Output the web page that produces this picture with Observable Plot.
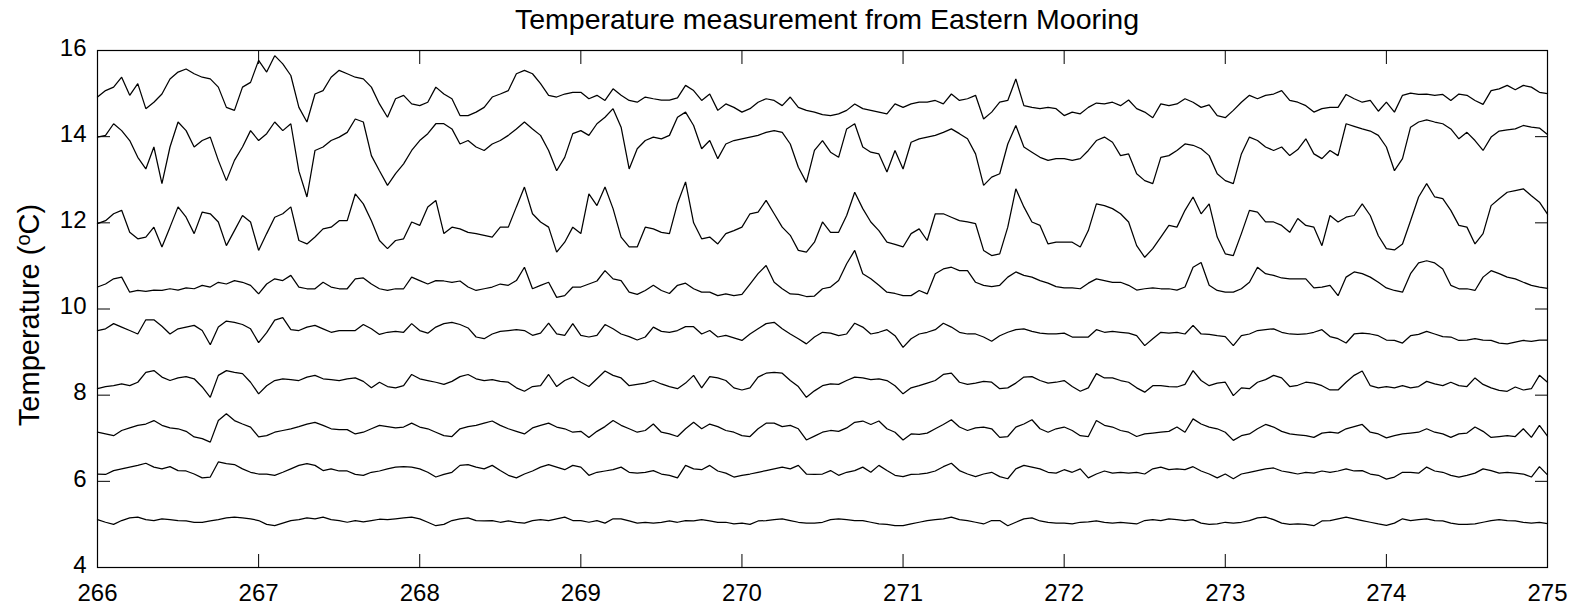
<!DOCTYPE html>
<html>
<head>
<meta charset="utf-8">
<script src="https://cdn.jsdelivr.net/npm/d3@7"></script>
<script src="https://cdn.jsdelivr.net/npm/@observablehq/plot@0.6"></script>
<style>
  html, body { margin: 0; padding: 0; background: #fff; }
  #chart svg { display: block; }
</style>
</head>
<body>
<div id="chart"></div>
<script>
// Time axis: decimal day of year, sampled every 0.05 day from 266 to 275
const startDay = 266;
const stepDay = 0.05;
const xTicks = [266, 267, 268, 269, 270, 271, 272, 273, 274, 275];
const yTicks = [4, 6, 8, 10, 12, 14, 16];
const chartTitle = "Temperature measurement from Eastern Mooring";

// Temperature (°C) of each instrument, shallowest first
const sensor1 = [
  14.92,15.07,15.15,15.38,14.96,15.23,14.65,14.80,14.99,15.34,15.50,15.57,15.46,15.38,15.34,15.15,14.68,14.61,15.15,15.26,15.77,15.50,15.88,15.69,15.42,14.68,14.34,14.99,15.07,15.38,15.54,
  15.46,15.38,15.34,15.15,14.76,14.45,14.88,14.96,14.76,14.72,14.80,15.15,14.99,14.88,14.49,14.49,14.57,14.68,14.92,14.99,15.07,15.46,15.54,15.46,15.23,14.96,14.92,14.99,15.03,
  15.03,14.88,14.96,14.84,15.11,14.96,14.84,14.80,14.92,14.88,14.85,14.85,14.90,15.19,15.07,14.84,14.99,14.61,14.76,14.68,14.57,14.65,14.80,14.88,14.84,14.72,14.92,14.68,14.61,
  14.57,14.51,14.49,14.53,14.61,14.76,14.65,14.61,14.57,14.53,14.76,14.68,14.76,14.80,14.80,14.84,14.76,14.99,14.84,14.88,14.96,14.41,14.57,14.80,14.84,15.34,14.72,14.68,14.65,14.68,14.65,
  14.49,14.57,14.53,14.68,14.78,14.76,14.80,14.72,14.85,14.65,14.57,14.44,14.76,14.72,14.76,14.88,14.80,14.68,14.74,14.49,14.44,14.61,14.80,14.96,14.88,14.96,14.99,15.07,14.84,
  14.80,14.72,14.57,14.65,14.68,14.68,14.98,14.88,14.80,14.84,14.59,14.80,14.57,14.96,15.01,14.98,14.99,14.96,14.98,14.84,14.99,14.96,14.84,14.75,15.07,15.11,15.19,15.09,15.19,15.15,15.03,15.00
];
const sensor2 = [
  13.99,14.03,14.30,14.14,13.91,13.52,13.25,13.76,12.91,13.76,14.34,14.14,13.76,13.91,13.99,13.45,12.98,13.45,13.76,14.14,13.91,14.07,14.34,14.14,14.30,13.20,12.60,13.68,13.76,13.91,13.99,
  14.10,14.41,14.34,13.56,13.21,12.87,13.14,13.37,13.68,13.91,14.07,14.30,14.30,14.18,13.83,13.91,13.76,13.68,13.83,13.91,14.03,14.18,14.34,14.18,14.03,13.68,13.21,13.52,14.07,
  14.14,14.03,14.30,14.45,14.65,14.22,13.25,13.72,13.91,13.99,13.95,14.03,14.45,14.57,14.26,13.72,13.91,13.49,13.83,13.91,13.95,13.99,14.03,14.10,14.14,14.10,13.83,13.29,12.94,
  13.68,13.91,13.64,13.52,14.18,14.30,13.76,13.64,13.60,13.18,13.68,13.25,13.87,13.95,13.99,14.03,14.10,14.18,14.07,13.95,13.60,12.87,13.06,13.14,13.83,14.26,13.76,13.64,13.52,13.45,13.49,
  13.49,13.45,13.49,13.68,13.91,13.99,13.87,13.56,13.60,13.14,12.98,12.91,13.52,13.56,13.68,13.83,13.80,13.72,13.56,13.14,12.98,12.91,13.60,13.99,13.91,13.76,13.68,13.76,13.56,
  13.70,13.95,13.60,13.49,13.68,13.56,14.30,14.24,14.18,14.13,14.03,13.76,13.21,13.49,14.22,14.34,14.39,14.34,14.30,14.18,13.95,14.10,13.91,13.68,13.99,14.13,14.16,14.18,14.26,14.22,14.20,14.05
];
const sensor3 = [
  11.98,12.05,12.21,12.29,11.78,11.63,11.67,11.90,11.44,11.90,12.37,12.13,11.75,12.25,12.21,12.02,11.47,11.82,12.17,12.02,11.36,11.75,12.13,12.21,12.37,11.59,11.51,11.67,11.86,11.90,12.05,
  12.05,12.67,12.44,12.05,11.59,11.40,11.59,11.63,12.02,11.94,12.37,12.52,11.75,11.90,11.86,11.78,11.75,11.71,11.67,11.90,11.90,12.37,12.83,12.21,12.02,11.90,11.32,11.55,11.90,
  11.75,12.67,12.40,12.83,12.33,11.67,11.44,11.44,11.90,11.86,11.78,11.75,12.45,12.95,12.00,11.63,11.67,11.51,11.75,11.82,11.90,12.21,12.25,12.52,12.21,11.90,11.71,11.36,11.32,
  11.55,12.02,11.78,11.78,12.17,12.71,12.33,12.02,11.82,11.55,11.50,11.44,11.75,11.86,11.59,12.21,12.21,12.13,12.05,12.02,11.98,11.36,11.24,11.28,11.90,12.79,12.37,12.02,11.94,11.51,11.55,
  11.55,11.55,11.44,11.82,12.44,12.40,12.33,12.21,12.02,11.47,11.20,11.40,11.67,11.94,11.90,12.29,12.60,12.21,12.44,11.67,11.28,11.24,11.75,12.29,12.25,12.02,12.02,11.94,11.78,
  12.10,11.94,11.90,11.47,12.17,12.02,12.13,12.17,12.44,12.17,11.70,11.40,11.37,11.51,12.05,12.60,12.91,12.60,12.56,12.29,11.94,11.90,11.51,11.75,12.40,12.56,12.71,12.75,12.79,12.63,12.48,12.20
];
const sensor4 = [
  10.51,10.58,10.70,10.74,10.39,10.43,10.41,10.44,10.43,10.47,10.44,10.49,10.47,10.55,10.51,10.62,10.58,10.66,10.62,10.55,10.35,10.58,10.70,10.66,10.78,10.51,10.47,10.47,10.62,10.51,10.47,
  10.47,10.70,10.72,10.58,10.47,10.43,10.47,10.47,10.74,10.66,10.58,10.66,10.65,10.62,10.65,10.51,10.43,10.47,10.51,10.58,10.55,10.66,10.97,10.47,10.55,10.62,10.27,10.31,10.51,
  10.51,10.58,10.65,10.89,10.70,10.66,10.39,10.34,10.43,10.55,10.43,10.36,10.55,10.60,10.47,10.39,10.39,10.31,10.35,10.31,10.34,10.58,10.82,11.01,10.62,10.47,10.35,10.34,10.29,
  10.30,10.47,10.51,10.66,11.05,11.36,10.82,10.70,10.55,10.39,10.36,10.31,10.31,10.43,10.35,10.82,10.93,10.97,10.89,10.89,10.62,10.55,10.52,10.55,10.74,10.86,10.78,10.74,10.66,10.60,10.52,
  10.49,10.49,10.47,10.60,10.70,10.66,10.62,10.62,10.55,10.44,10.47,10.49,10.47,10.47,10.44,10.51,10.97,11.08,10.55,10.43,10.39,10.39,10.47,10.62,10.97,10.82,10.78,10.72,10.70,
  10.70,10.70,10.49,10.51,10.55,10.31,10.74,10.86,10.82,10.74,10.62,10.49,10.43,10.39,10.82,11.07,11.12,11.07,10.93,10.55,10.47,10.47,10.43,10.74,10.89,10.82,10.74,10.70,10.62,10.55,10.51,10.48
];
const sensor5 = [
  9.50,9.54,9.66,9.58,9.50,9.42,9.75,9.75,9.60,9.42,9.54,9.58,9.62,9.50,9.17,9.58,9.72,9.69,9.64,9.54,9.22,9.45,9.74,9.80,9.52,9.50,9.58,9.62,9.54,9.46,9.50,
  9.50,9.50,9.64,9.54,9.41,9.46,9.48,9.46,9.66,9.50,9.44,9.58,9.66,9.69,9.64,9.56,9.35,9.31,9.42,9.48,9.50,9.52,9.50,9.39,9.44,9.67,9.42,9.39,9.66,
  9.39,9.35,9.39,9.64,9.54,9.42,9.36,9.28,9.35,9.58,9.48,9.46,9.50,9.59,9.59,9.42,9.50,9.35,9.39,9.33,9.27,9.42,9.54,9.66,9.69,9.54,9.42,9.31,9.19,
  9.35,9.46,9.44,9.38,9.42,9.67,9.58,9.42,9.46,9.52,9.38,9.11,9.31,9.42,9.46,9.52,9.67,9.58,9.46,9.42,9.42,9.35,9.25,9.38,9.46,9.52,9.54,9.48,9.44,9.42,9.42,
  9.44,9.35,9.35,9.35,9.52,9.46,9.48,9.46,9.44,9.38,9.15,9.31,9.46,9.44,9.46,9.42,9.62,9.42,9.41,9.38,9.36,9.15,9.38,9.42,9.50,9.52,9.54,9.46,9.42,
  9.41,9.42,9.46,9.52,9.36,9.31,9.21,9.42,9.44,9.42,9.38,9.28,9.27,9.21,9.38,9.41,9.48,9.42,9.36,9.35,9.27,9.28,9.31,9.28,9.27,9.21,9.19,9.23,9.27,9.25,9.28,9.28
];
const sensor6 = [
  8.15,8.20,8.22,8.26,8.22,8.30,8.53,8.57,8.42,8.34,8.40,8.43,8.38,8.19,7.95,8.46,8.57,8.53,8.50,8.30,8.03,8.22,8.34,8.38,8.36,8.34,8.42,8.46,8.38,8.36,8.34,
  8.38,8.40,8.32,8.17,8.30,8.20,8.17,8.22,8.48,8.38,8.34,8.30,8.25,8.32,8.43,8.48,8.38,8.34,8.36,8.32,8.30,8.17,8.09,8.20,8.22,8.48,8.20,8.34,8.42,
  8.30,8.20,8.38,8.56,8.46,8.40,8.22,8.25,8.28,8.34,8.26,8.20,8.15,8.28,8.46,8.17,8.43,8.40,8.34,8.17,8.12,8.17,8.42,8.51,8.53,8.51,8.34,8.20,7.95,
  8.10,8.22,8.26,8.25,8.34,8.42,8.40,8.36,8.38,8.34,8.22,8.03,8.17,8.22,8.28,8.34,8.48,8.51,8.30,8.25,8.28,8.32,8.30,8.15,8.17,8.28,8.42,8.43,8.34,8.28,8.30,
  8.34,8.20,8.09,8.17,8.50,8.40,8.40,8.34,8.30,8.17,8.07,8.22,8.22,8.20,8.19,8.25,8.57,8.34,8.22,8.28,8.30,7.99,8.17,8.15,8.30,8.36,8.46,8.40,8.20,
  8.23,8.30,8.28,8.22,8.12,8.12,8.30,8.46,8.56,8.22,8.17,8.20,8.17,8.22,8.17,8.20,8.32,8.26,8.22,8.30,8.22,8.20,8.40,8.25,8.17,8.11,8.09,8.19,8.12,8.15,8.46,8.30
];
const sensor7 = [
  7.14,7.10,7.06,7.18,7.24,7.30,7.33,7.41,7.30,7.24,7.22,7.16,7.03,6.99,6.91,7.41,7.57,7.41,7.33,7.26,7.03,7.06,7.14,7.18,7.22,7.27,7.33,7.37,7.30,7.22,7.20,
  7.20,7.10,7.14,7.22,7.30,7.27,7.24,7.26,7.35,7.26,7.22,7.14,7.06,7.04,7.22,7.27,7.30,7.35,7.40,7.30,7.22,7.16,7.10,7.24,7.30,7.35,7.26,7.22,7.14,
  7.16,7.02,7.16,7.27,7.41,7.30,7.22,7.14,7.18,7.33,7.14,7.10,7.04,7.22,7.37,7.22,7.33,7.27,7.18,7.14,7.06,7.04,7.22,7.35,7.35,7.27,7.30,7.22,6.96,
  7.05,7.14,7.18,7.16,7.24,7.37,7.40,7.32,7.40,7.22,7.14,6.96,7.10,7.09,7.12,7.22,7.32,7.43,7.26,7.18,7.24,7.26,7.22,7.02,7.04,7.26,7.33,7.43,7.22,7.14,7.22,
  7.26,7.18,7.06,7.04,7.41,7.30,7.26,7.18,7.14,7.04,7.10,7.12,7.14,7.16,7.26,7.14,7.45,7.33,7.26,7.22,7.14,6.95,7.06,7.10,7.22,7.32,7.26,7.16,7.10,
  7.08,7.06,7.02,7.12,7.14,7.12,7.22,7.27,7.32,7.14,7.10,7.01,7.06,7.10,7.12,7.14,7.22,7.14,7.10,7.02,7.10,7.12,7.26,7.16,7.02,7.04,7.06,7.04,7.22,7.02,7.30,7.05
];
const sensor8 = [
  6.17,6.16,6.25,6.29,6.33,6.37,6.42,6.33,6.29,6.34,6.25,6.24,6.17,6.08,6.10,6.45,6.41,6.39,6.29,6.21,6.17,6.17,6.14,6.21,6.29,6.37,6.41,6.37,6.25,6.29,6.24,
  6.24,6.16,6.14,6.21,6.24,6.29,6.33,6.34,6.33,6.29,6.21,6.10,6.16,6.21,6.37,6.39,6.33,6.29,6.37,6.25,6.14,6.08,6.17,6.24,6.33,6.39,6.33,6.27,6.37,
  6.33,6.14,6.21,6.24,6.27,6.33,6.21,6.19,6.21,6.25,6.17,6.14,6.08,6.37,6.29,6.27,6.37,6.24,6.19,6.10,6.14,6.17,6.21,6.25,6.29,6.33,6.29,6.37,6.17,
  6.16,6.17,6.25,6.14,6.21,6.25,6.33,6.21,6.37,6.25,6.14,6.11,6.16,6.17,6.19,6.24,6.34,6.42,6.25,6.17,6.11,6.17,6.21,6.11,6.06,6.29,6.37,6.33,6.29,6.21,6.19,
  6.27,6.21,6.29,6.08,6.17,6.24,6.19,6.21,6.19,6.21,6.17,6.29,6.33,6.27,6.29,6.27,6.34,6.24,6.17,6.08,6.17,6.06,6.17,6.21,6.25,6.29,6.31,6.24,6.21,
  6.17,6.21,6.19,6.24,6.21,6.24,6.29,6.24,6.25,6.17,6.14,6.05,6.10,6.21,6.21,6.19,6.33,6.24,6.21,6.14,6.10,6.14,6.19,6.29,6.25,6.19,6.21,6.19,6.17,6.10,6.34,6.15
];
const sensor9 = [
  5.11,5.05,5.00,5.09,5.15,5.17,5.11,5.09,5.13,5.11,5.09,5.08,5.05,5.05,5.08,5.11,5.15,5.17,5.15,5.13,5.09,5.00,4.97,5.03,5.09,5.11,5.15,5.13,5.17,5.11,5.09,
  5.05,5.09,5.06,5.09,5.12,5.11,5.13,5.15,5.17,5.13,5.05,4.97,5.00,5.09,5.13,5.15,5.09,5.08,5.09,5.05,5.08,5.05,5.03,5.09,5.11,5.09,5.13,5.17,5.09,
  5.09,5.05,5.09,5.03,5.13,5.13,5.08,5.03,5.05,5.03,5.05,5.08,5.05,5.09,5.08,5.11,5.08,5.05,5.05,5.01,5.03,5.00,5.08,5.09,5.11,5.13,5.09,5.05,5.03,
  5.03,5.05,5.11,5.13,5.11,5.09,5.09,5.05,5.01,5.00,4.97,4.97,5.01,5.05,5.09,5.11,5.13,5.17,5.11,5.09,5.05,5.01,5.09,5.09,4.97,5.05,5.13,5.15,5.08,5.05,5.03,
  5.03,5.01,5.05,5.06,5.08,5.05,5.03,5.05,5.03,5.01,5.09,5.11,5.09,5.13,5.11,5.09,5.11,5.03,5.00,5.01,5.05,5.03,5.05,5.09,5.15,5.17,5.11,5.03,5.00,
  5.01,5.00,4.97,5.08,5.09,5.13,5.17,5.13,5.09,5.05,5.01,4.98,5.03,5.13,5.09,5.11,5.13,5.09,5.08,5.03,5.00,5.00,5.01,5.05,5.09,5.11,5.09,5.08,5.05,5.03,5.05,5.02
];

const sensors = [sensor1, sensor2, sensor3, sensor4, sensor5, sensor6, sensor7, sensor8, sensor9];
const rows = sensors.flatMap((values, k) =>
  values.map((temp, i) => ({sensor: k + 1, day: startDay + i * stepDay, temp}))
);

const font = "'Liberation Sans', Arial, Helvetica, sans-serif";
const noText = () => "";

const chart = Plot.plot({
  width: 1584,
  height: 610,
  marginLeft: 97,
  marginRight: 37,
  marginTop: 50,
  marginBottom: 43,
  style: {fontFamily: font, fontSize: "24px", color: "black", background: "white", overflow: "visible"},
  x: {domain: [266, 275]},
  y: {domain: [4, 16]},
  marks: [
    Plot.lineY(rows, {x: "day", y: "temp", z: "sensor", stroke: "black", strokeWidth: 1.25, strokeLinejoin: "miter"}),
    Plot.frame({stroke: "black", strokeWidth: 1.2}),
    // inward ticks on all four sides
    Plot.axisX({anchor: "bottom", ticks: xTicks, tickSize: -13, tickFormat: noText, label: null}),
    Plot.axisX({anchor: "top", ticks: xTicks, tickSize: -13, tickFormat: noText, label: null}),
    Plot.axisY({anchor: "left", ticks: yTicks, tickSize: -13, tickFormat: noText, label: null}),
    Plot.axisY({anchor: "right", ticks: yTicks, tickSize: -13, tickFormat: noText, label: null}),
    // tick labels
    Plot.axisX({anchor: "bottom", ticks: xTicks, tickSize: 0, tickPadding: 16, tickFormat: d => String(d), label: null, fontSize: 24}),
    Plot.axisY({anchor: "left", ticks: yTicks, tickSize: 0, tickPadding: 11, dy: -2.5, tickFormat: d => String(d), label: null, fontSize: 24})
  ]
});

document.getElementById("chart").appendChild(chart);

const svg = d3.select(chart);
svg.append("text")
  .attr("x", 827)
  .attr("y", 29)
  .attr("text-anchor", "middle")
  .style("font-family", font)
  .style("font-size", "28.5px")
  .attr("fill", "black")
  .text(chartTitle);

const ylab = svg.append("text")
  .attr("transform", "translate(39,315) rotate(-90)")
  .attr("text-anchor", "middle")
  .style("font-family", font)
  .style("font-size", "29px")
  .attr("fill", "black");
ylab.append("tspan").text("Temperature (");
ylab.append("tspan").attr("dy", "-0.45em").style("font-size", "20px").text("o");
ylab.append("tspan").attr("dy", "0.31em").text("C)");
</script>
</body>
</html>
